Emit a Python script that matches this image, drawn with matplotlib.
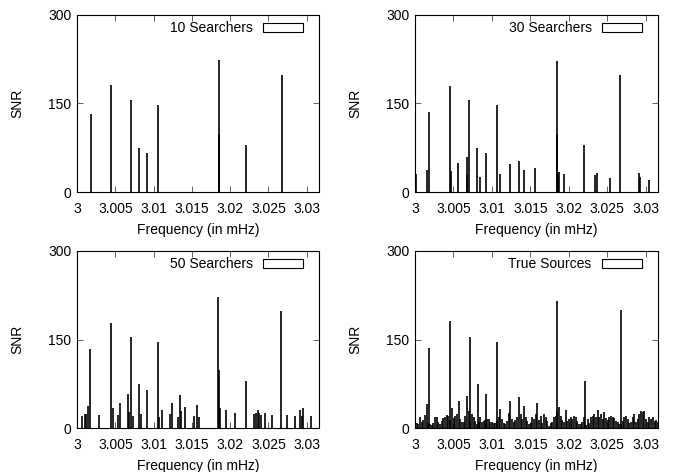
import matplotlib
matplotlib.use("Agg")
import matplotlib.pyplot as plt
from matplotlib.patches import Rectangle
import numpy as np

# frequencies in mHz, SNR of each recovered source
searchers10_freq = [3.00180, 3.00445, 3.00706, 3.00815, 3.00915, 3.01060,
                    3.01848, 3.01855, 3.02210, 3.02675]
searchers10_snr = [132, 181, 156, 75, 66, 147, 223, 99, 80, 199]

searchers30_freq = [3.00010, 3.00150, 3.00183, 3.00452, 3.00470, 3.00555, 3.00670,
                    3.00680, 3.00705, 3.00812, 3.00842, 3.00920, 3.01060, 3.01102,
                    3.01232, 3.01348, 3.01415, 3.01565, 3.01845, 3.01852, 3.01862,
                    3.01872, 3.01935, 3.02203, 3.02345, 3.02365, 3.02530, 3.02672,
                    3.02910, 3.02932, 3.03043]
searchers30_snr = [31, 37, 135, 179, 35, 50, 59, 28, 156, 75, 25, 66, 147, 31, 47,
                   52, 37, 40, 222, 99, 34, 34, 31, 80, 29, 33, 24, 199, 32, 26, 21]

searchers50_freq = [3.00000, 3.00065, 3.00109, 3.00122, 3.00139, 3.00174, 3.00283,
                    3.00444, 3.00466, 3.00540, 3.00557, 3.00662, 3.00680, 3.00701,
                    3.00736, 3.00810, 3.00841, 3.00910, 3.01058, 3.01076, 3.01106,
                    3.01215, 3.01237, 3.01320, 3.01350, 3.01359, 3.01415, 3.01533,
                    3.01563, 3.01598, 3.01846, 3.01853, 3.01868, 3.01943, 3.02060,
                    3.02204, 3.02313, 3.02343, 3.02360, 3.02374, 3.02400, 3.02457,
                    3.02540, 3.02670, 3.02744, 3.02844, 3.02918, 3.02936, 3.02957,
                    3.03058]
searchers50_snr = [30, 21, 23, 23, 37, 134, 22, 178, 34, 22, 43, 58, 27, 155, 20,
                   75, 24, 65, 145, 18, 30, 23, 43, 18, 56, 28, 36, 20, 39, 19,
                   222, 99, 34, 30, 26, 79, 23, 26, 30, 26, 22, 25, 22, 198, 22,
                   21, 30, 21, 34, 20]

# true sources: strong ones plus the dense low-SNR background
true_peak_freq = [3.00183, 3.00452, 3.00710, 3.00820, 3.00928, 3.01065,
                  3.01848, 3.02210, 3.02675]
true_peak_snr = [135, 182, 155, 75, 58, 146, 216, 79, 200]

true_bin_start = 3.0
true_bin_step = 0.0002178
true_noise_snr = [30, 8, 6, 19, 11, 13, 22, 40, 9, 7, 5, 9, 18, 19, 10, 6, 12, 17,
                  18, 22, 21, 14, 34, 17, 21, 24, 45, 15, 11, 10, 20, 55, 29, 12,
                  24, 18, 12, 7, 10, 19, 10, 12, 14, 15, 15, 11, 10, 9, 8, 12, 18,
                  32, 15, 8, 7, 12, 25, 45, 15, 11, 13, 18, 53, 24, 15, 38, 18, 12,
                  7, 8, 18,
                  15, 24, 42, 13, 21, 8, 24, 19, 12, 4, 8, 11, 18, 21, 29, 35, 21,
                  13, 10, 30, 12, 15, 19, 15, 21, 18, 12, 6, 7, 10, 18, 5, 15, 8,
                  18, 21, 24, 18, 30, 19, 24, 15, 27, 17, 13, 18, 21, 18, 17, 12,
                  10, 7, 6, 12, 18, 21, 15, 8, 10, 18, 24, 11, 15, 24, 29, 27, 29,
                  15, 10, 18, 15, 18, 12, 13, 10, 11]
true_noise_freq = true_bin_start + true_bin_step * np.arange(len(true_noise_snr))

titles = ["10 Searchers", "30 Searchers", "50 Searchers", "True Sources"]
x_ticks = [3.0, 3.005, 3.01, 3.015, 3.02, 3.025, 3.03]
x_tick_labels = ["3", "3.005", "3.01", "3.015", "3.02", "3.025", "3.03"]
y_ticks = [0, 150, 300]

plt.rcParams['font.family'] = ['Liberation Sans', 'DejaVu Sans']
plt.rcParams['font.size'] = 10

W, H = 674, 472
fig = plt.figure(figsize=(W / 100, H / 100), dpi=100)

# axes boxes in pixels: left, top, right, bottom
boxes = [(77, 15, 319, 192), (415, 15, 658, 192),
         (77, 251, 319, 428), (415, 251, 658, 428)]

series = [
    [(searchers10_freq, searchers10_snr)],
    [(searchers30_freq, searchers30_snr)],
    [(searchers50_freq, searchers50_snr)],
    [(true_noise_freq, true_noise_snr), (true_peak_freq, true_peak_snr)],
]

for (l, t, r, b), title, data in zip(boxes, titles, series):
    ax = fig.add_axes([l / W, 1 - b / H, (r - l) / W, (b - t) / H])
    for f, s in data:
        ax.vlines(f, 0, s, color='black', lw=1.2)

    ax.set_xlim(3.0, 3.0316)
    ax.set_ylim(0, 300)
    ax.set_xticks(x_ticks)
    ax.set_xticklabels(x_tick_labels)
    ax.set_yticks(y_ticks)
    ax.tick_params(axis='both', direction='in', length=4.3, width=0.6,
                   top=True, right=True, color='#444444')
    ax.tick_params(axis='x', pad=7)
    ax.tick_params(axis='y', pad=4)
    for sp in ax.spines.values():
        sp.set_linewidth(0.8)
    ax.set_xlabel("Frequency (in mHz)", labelpad=5)
    ax.set_ylabel("SNR", labelpad=17)

    # gnuplot-style key: label with an empty box sample on its right
    ax.text(0.727, 0.926, title, transform=ax.transAxes, ha='right', va='center')
    ax.add_patch(Rectangle((0.769, 0.904), 0.165, 0.051, transform=ax.transAxes,
                           facecolor='white', edgecolor='black', lw=0.8))

fig.savefig("out.png", dpi=100)
